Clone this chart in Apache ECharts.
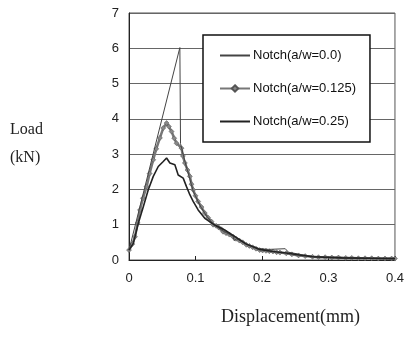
<!DOCTYPE html>
<html>
<head>
<meta charset="utf-8">
<script src="https://cdn.jsdelivr.net/npm/echarts@6/dist/echarts.min.js"></script>
<style>
  html, body { margin: 0; padding: 0; background: #fff; }
  #main { width: 407px; height: 339px; }
</style>
</head>
<body>
<div id="main"></div>
<script>
// Notch(a/w=0.0) : displacement (mm), load (kN)
var notch00 = [
    [0, 0.28], [0.0765, 6.02], [0.0775, 3.3], [0.084, 2.8], [0.0915, 2.3],
    [0.0965, 1.95], [0.1065, 1.55], [0.1165, 1.25], [0.1265, 1.02], [0.1415, 0.82],
    [0.1565, 0.68], [0.158, 0.55], [0.162, 0.6], [0.1765, 0.45], [0.1965, 0.32],
    [0.21, 0.3], [0.212, 0.34], [0.235, 0.32], [0.24, 0.22], [0.26, 0.15],
    [0.276, 0.1], [0.3, 0.07], [0.35, 0.05], [0.4, 0.04]
];
// Notch(a/w=0.125)
var notch0125 = [
    [0, 0.28], [0.005, 0.45], [0.009, 0.66], [0.013, 1.05], [0.0165, 1.42],
    [0.021, 1.75], [0.0265, 2.08], [0.031, 2.45], [0.0365, 2.84], [0.041, 3.15],
    [0.0465, 3.46], [0.0515, 3.74], [0.0565, 3.88], [0.06, 3.78], [0.064, 3.64],
    [0.068, 3.45], [0.0715, 3.31], [0.079, 3.17], [0.081, 2.95], [0.084, 2.75],
    [0.088, 2.55], [0.0915, 2.37], [0.094, 2.15], [0.0965, 1.99], [0.1, 1.82],
    [0.104, 1.66], [0.109, 1.5], [0.114, 1.33], [0.119, 1.2], [0.124, 1.09],
    [0.1265, 1.0], [0.131, 0.97], [0.135, 0.92], [0.139, 0.87], [0.1415, 0.8],
    [0.146, 0.76], [0.151, 0.72], [0.1565, 0.66], [0.161, 0.6], [0.166, 0.55],
    [0.171, 0.5], [0.1765, 0.43], [0.181, 0.4], [0.186, 0.36], [0.191, 0.32],
    [0.1965, 0.28], [0.201, 0.27], [0.206, 0.26], [0.211, 0.25], [0.2165, 0.24],
    [0.222, 0.22], [0.227, 0.21], [0.2365, 0.19], [0.245, 0.16], [0.255, 0.13],
    [0.265, 0.11], [0.276, 0.09], [0.285, 0.08], [0.295, 0.08], [0.305, 0.07],
    [0.315, 0.07], [0.326, 0.06], [0.335, 0.06], [0.345, 0.05], [0.355, 0.05],
    [0.365, 0.05], [0.375, 0.04], [0.385, 0.04], [0.395, 0.04], [0.4, 0.04]
];
// Notch(a/w=0.25)
var notch025 = [
    [0, 0.28], [0.0065, 0.47], [0.014, 1.04], [0.0215, 1.51], [0.029, 1.99],
    [0.0365, 2.37], [0.044, 2.65], [0.0515, 2.79], [0.0565, 2.89], [0.0615, 2.75],
    [0.069, 2.7], [0.074, 2.41], [0.0815, 2.32], [0.0865, 2.08], [0.0915, 1.85],
    [0.0965, 1.66], [0.104, 1.42], [0.114, 1.18], [0.129, 0.99], [0.144, 0.85],
    [0.1565, 0.7], [0.1765, 0.45], [0.1965, 0.3], [0.2165, 0.24], [0.2365, 0.2],
    [0.256, 0.14], [0.276, 0.09], [0.32, 0.06], [0.36, 0.05], [0.4, 0.04]
];
var legendNames = ['Notch(a/w=0.0)', 'Notch(a/w=0.125)', 'Notch(a/w=0.25)'];

var myChart = echarts.init(document.getElementById('main'));

var tickFont = {
    color: '#222',
    fontFamily: 'Liberation Sans',
    fontSize: 13
};

myChart.setOption({
    backgroundColor: '#fff',
    animation: false,
    grid: {
        left: 129,
        right: 11,
        top: 13,
        bottom: 79,
        show: true,
        borderColor: '#555',
        borderWidth: 1
    },
    legend: {
        data: [
            { name: legendNames[0], itemStyle: { opacity: 0 } },
            { name: legendNames[1] },
            { name: legendNames[2], itemStyle: { opacity: 0 } }
        ],
        orient: 'vertical',
        left: 203,
        top: 35,
        padding: [14, 14, 14, 16],
        itemGap: 20,
        itemWidth: 30,
        itemHeight: 8,
        backgroundColor: '#fff',
        borderColor: '#111',
        borderWidth: 1.5,
        textStyle: {
            color: '#111',
            fontFamily: 'Liberation Sans',
            fontSize: 13,
            padding: [0, 0, 0, -2]
        }
    },
    xAxis: {
        type: 'value',
        min: 0,
        max: 0.4,
        interval: 0.1,
        axisLine: { lineStyle: { color: '#222', width: 1 } },
        axisTick: { show: true, inside: true, length: 4, lineStyle: { color: '#222' } },
        axisLabel: Object.assign({ margin: 12 }, tickFont),
        splitLine: { show: false }
    },
    yAxis: {
        type: 'value',
        min: 0,
        max: 7,
        interval: 1,
        axisLine: { show: true, lineStyle: { color: '#222', width: 1 } },
        axisTick: { show: false },
        axisLabel: Object.assign({ margin: 10 }, tickFont),
        splitLine: { show: true, lineStyle: { color: '#666', width: 1 } }
    },
    series: [
        {
            name: legendNames[0],
            type: 'line',
            data: notch00,
            symbol: 'none',
            lineStyle: { color: '#444', width: 1 },
            itemStyle: { color: '#444' },
            z: 3
        },
        {
            name: legendNames[1],
            type: 'line',
            data: notch0125,
            symbol: 'diamond',
            symbolSize: 5,
            lineStyle: { color: '#777', width: 2.5 },
            itemStyle: { color: '#888', borderColor: '#555', borderWidth: 0.5 },
            z: 2
        },
        {
            name: legendNames[2],
            type: 'line',
            data: notch025,
            symbol: 'none',
            lineStyle: { color: '#222', width: 1.6 },
            itemStyle: { color: '#222' },
            z: 4
        }
    ],
    graphic: [
        {
            type: 'text', left: 10, top: 122,
            style: { text: 'Load', font: '16px "Liberation Serif"', fill: '#222' }
        },
        {
            type: 'text', left: 10, top: 150,
            style: { text: '(kN)', font: '16px "Liberation Serif"', fill: '#222' }
        },
        {
            type: 'text', left: 221, top: 308,
            style: { text: 'Displacement(mm)', font: '18px "Liberation Serif"', fill: '#222' }
        }
    ]
});
</script>
</body>
</html>
